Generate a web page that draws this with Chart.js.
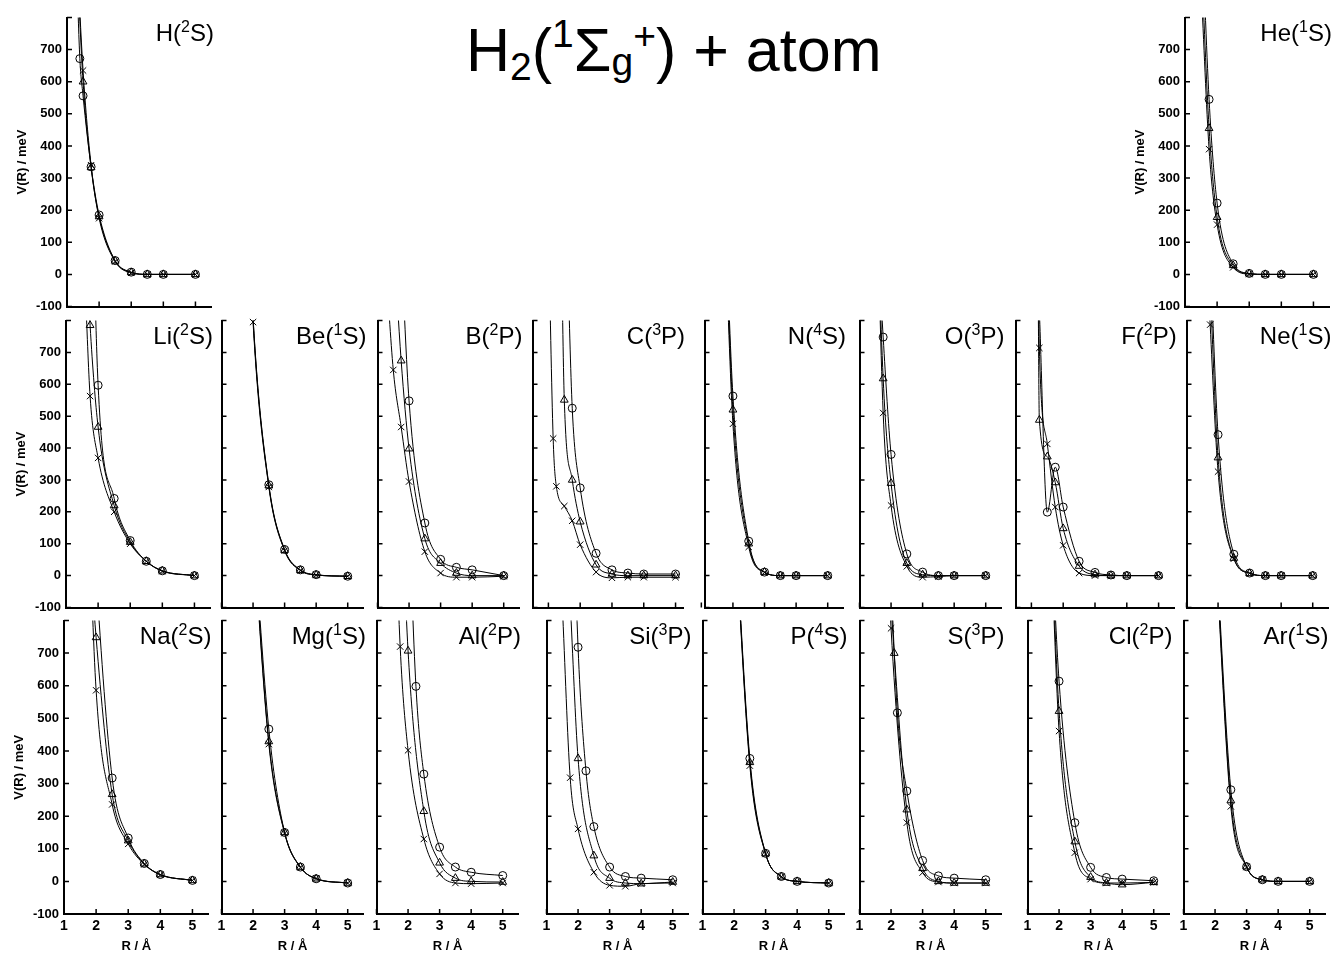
<!DOCTYPE html>
<html>
<head>
<meta charset="utf-8">
<title>H2 + atom potentials</title>
<script src="https://cdn.jsdelivr.net/npm/chart.js@4.4.0/dist/chart.umd.min.js"></script>
<style>
  html, body { margin: 0; padding: 0; background: #fff; }
  body { width: 1332px; height: 953px; position: relative; overflow: hidden;
         font-family: 'Liberation Sans', Arial, Helvetica, sans-serif; color: #000; }
  canvas { position: absolute; }
  .lbl { position: absolute; text-align: right; font-size: 24px; line-height: 24px; white-space: nowrap; color: #000; }
  .lbl .sp { font-size: 16px; position: relative; top: -9px; }
  #title { position: absolute; left: 466px; top: 20px; font-size: 61px; line-height: 61px; white-space: nowrap; color: #000; }
  #title span { color: #000; }
  #title .sb  { font-size: 39px; position: relative; top: 9px; }
  #title .sp  { font-size: 39px; position: relative; top: -24px; }
  #title .sbg { font-size: 39px; position: relative; top: 4px; }
  #title .spp { font-size: 39px; position: relative; top: -22px; }
</style>
</head>
<body>
<div id="title">H<span class="sb">2</span>(<span class="sp">1</span>Σ<span class="sbg">g</span><span class="spp">+</span>) + atom</div>
<script>
// tick values shared by all panels
const X_TICKS = [1, 2, 3, 4, 5];
const Y_TICKS = [-100, 0, 100, 200, 300, 400, 500, 600, 700, 800];

// [R / Å, V / meV]; _o circles, _t triangles, _x crosses.
// values above 800 sit outside the frame and only show where the curve leaves the top
const H_o = [[1.3, 950], [1.4, 672], [1.5, 556], [1.75, 335], [2, 185], [2.5, 43], [3, 7], [3.5, 0], [4, 0], [5, 0]];
const H_t = [[1.3, 1000], [1.5, 600], [1.75, 333], [2, 180], [2.5, 42], [3, 6], [3.5, 0], [4, 0], [5, 0]];
const H_x = [[1.3, 1020], [1.5, 635], [1.75, 340], [2, 175], [2.5, 40], [3, 5], [3.5, 0], [4, 0], [5, 0]];

const He_o = [[1.5, 1150], [1.75, 545], [2, 222], [2.5, 33], [3, 3], [3.5, 0], [4, 0], [5, 0]];
const He_t = [[1.5, 1000], [1.75, 455], [2, 178], [2.5, 28], [3, 2], [3.5, 0], [4, 0], [5, 0]];
const He_x = [[1.5, 900], [1.75, 390], [2, 155], [2.5, 22], [3, 1], [3.5, 0], [4, 0], [5, 0]];

const Li_o = [[1.75, 1500], [2, 597], [2.5, 242], [3, 110], [3.5, 45], [4, 15], [5, 0]];
const Li_t = [[1.6, 1100], [1.75, 785], [2, 466], [2.5, 220], [3, 105], [3.5, 45], [4, 15], [5, 0]];
const Li_x = [[1.6, 900], [1.75, 563], [2, 369], [2.5, 200], [3, 100], [3.5, 45], [4, 14], [5, 0]];

const Be_o = [[1.75, 1400], [2, 810], [2.5, 285], [3, 82], [3.5, 18], [4, 3], [5, -2]];
const Be_t = [[1.75, 1400], [2, 805], [2.5, 282], [3, 80], [3.5, 17], [4, 2], [5, -2]];
const Be_x = [[1.75, 1400], [2, 795], [2.5, 278], [3, 78], [3.5, 16], [4, 2], [5, -2]];

const B_o = [[1.75, 1030], [2, 548], [2.5, 165], [3, 51], [3.5, 26], [4, 18], [5, 0]];
const B_t = [[1.5, 1070], [1.75, 674], [2, 398], [2.5, 116], [3, 39], [3.5, 8], [4, 0], [5, 0]];
const B_x = [[1.25, 1000], [1.5, 645], [1.75, 466], [2, 295], [2.5, 75], [3, 8], [3.5, -5], [4, -5], [5, -2]];

const C_o = [[1.6, 1000], [1.75, 525], [2, 275], [2.5, 70], [3, 18], [3.5, 8], [4, 5], [5, 5]];
const C_t = [[1.4, 1100], [1.5, 551], [1.75, 300], [2, 169], [2.5, 34], [3, 5], [3.5, 0], [4, 0], [5, 0]];
const C_x = [[1, 1100], [1.15, 430], [1.25, 280], [1.5, 218], [1.75, 172], [2, 97], [2.5, 11], [3, -7], [3.5, -5], [4, -5], [5, -5]];

const N_o = [[1.75, 1160], [2, 563], [2.5, 108], [3, 11], [3.5, 0], [4, 0], [5, 0]];
const N_t = [[1.75, 1120], [2, 520], [2.5, 100], [3, 11], [3.5, 0], [4, 0], [5, 0]];
const N_x = [[1.75, 1080], [2, 476], [2.5, 90], [3, 10], [3.5, 0], [4, 0], [5, 0]];

const O_o = [[1.5, 1200], [1.75, 748], [2, 380], [2.5, 68], [3, 11], [3.5, 0], [4, 0], [5, 0]];
const O_t = [[1.5, 1350], [1.75, 618], [2, 290], [2.5, 39], [3, 3], [3.5, 0], [4, 0], [5, 0]];
const O_x = [[1.5, 1400], [1.75, 510], [2, 220], [2.5, 29], [3, -5], [3.5, -3], [4, 0], [5, 0]];

const F_o = [[1.25, 830], [1.5, 199], [1.75, 340], [2, 215], [2.5, 45], [3, 10], [3.5, 2], [4, 0], [5, 0]];
const F_t = [[1.2, 1100], [1.25, 488], [1.5, 373], [1.75, 292], [2, 148], [2.5, 30], [3, 3], [3.5, 0], [4, 0], [5, 0]];
const F_x = [[1.2, 1100], [1.25, 714], [1.5, 413], [1.75, 215], [2, 95], [2.5, 8], [3, 0], [3.5, 0], [4, 0], [5, 0]];

const Ne_o = [[1.5, 1500], [1.75, 1000], [2, 442], [2.5, 67], [3, 8], [3.5, 0], [4, 0], [5, 0]];
const Ne_t = [[1.5, 1400], [1.75, 900], [2, 370], [2.5, 55], [3, 7], [3.5, 0], [4, 0], [5, 0]];
const Ne_x = [[1.5, 1300], [1.75, 787], [2, 326], [2.5, 53], [3, 7], [3.5, 0], [4, 0], [5, 0]];

const Na_o = [[1.75, 1400], [2, 940], [2.5, 317], [3, 133], [3.5, 55], [4, 21], [5, 3]];
const Na_t = [[1.75, 1100], [2, 748], [2.5, 267], [3, 125], [3.5, 54], [4, 21], [5, 3]];
const Na_x = [[1.75, 1180], [2, 586], [2.5, 236], [3, 115], [3.5, 52], [4, 20], [5, 3]];

const Mg_o = [[2, 1100], [2.5, 467], [3, 150], [3.5, 44], [4, 8], [5, -5]];
const Mg_t = [[2, 1080], [2.5, 429], [3, 150], [3.5, 44], [4, 8], [5, -5]];
const Mg_x = [[2, 1070], [2.5, 421], [3, 148], [3.5, 43], [4, 9], [5, -5]];

const Al_o = [[2, 1200], [2.25, 598], [2.5, 329], [3, 105], [3.5, 44], [4, 28], [5, 18]];
const Al_t = [[1.75, 1300], [2, 707], [2.5, 215], [3, 57], [3.5, 10], [4, 0], [5, -2]];
const Al_x = [[1.5, 1400], [1.75, 720], [2, 402], [2.5, 130], [3, 23], [3.5, -5], [4, -7], [5, -5]];

const Si_o = [[1.75, 1500], [2, 718], [2.25, 339], [2.5, 168], [3, 44], [3.5, 15], [4, 10], [5, 5]];
const Si_t = [[1.75, 860], [2, 377], [2.5, 79], [3, 10], [3.5, -5], [4, -7], [5, -2]];
const Si_x = [[1.5, 850], [1.75, 318], [2, 161], [2.5, 28], [3, -12], [3.5, -15], [4, -7], [5, -5]];

const P_o = [[2, 1160], [2.5, 377], [3, 86], [3.5, 15], [4, 0], [5, -5]];
const P_t = [[2, 1150], [2.5, 365], [3, 85], [3.5, 14], [4, 0], [5, -5]];
const P_x = [[2, 1140], [2.5, 355], [3, 84], [3.5, 14], [4, 0], [5, -5]];

const S_o = [[2, 920], [2.2, 517], [2.5, 277], [3, 64], [3.5, 17], [4, 10], [5, 5]];
const S_t = [[1.9, 1000], [2.1, 700], [2.5, 220], [3, 40], [3.5, 0], [4, -5], [5, -5]];
const S_x = [[1.9, 1000], [2, 776], [2.5, 180], [3, 27], [3.5, -2], [4, -5], [5, -5]];

const Cl_o = [[1.75, 1080], [2, 614], [2.5, 180], [3, 43], [3.5, 12], [4, 7], [5, 2]];
const Cl_t = [[1.75, 1057], [2, 522], [2.5, 122], [3, 13], [3.5, -5], [4, -10], [5, -3]];
const Cl_x = [[1.75, 1026], [2, 461], [2.5, 88], [3, 7], [3.5, -5], [4, -5], [5, -3]];

const Ar_o = [[2, 1080], [2.5, 281], [3, 45], [3.5, 5], [4, 0], [5, 0]];
const Ar_t = [[2, 1060], [2.5, 248], [3, 45], [3.5, 5], [4, 0], [5, 0]];
const Ar_x = [[2, 1050], [2.5, 230], [3, 44], [3.5, 5], [4, 0], [5, 0]];

// layout of the grid (pixels)
const UNIT = 32.75;            // px per Å
const ROWS = [
  { top: 15,  bottom: 309 },
  { top: 318, bottom: 610 },
  { top: 618, bottom: 914 }
];

const PANELS = [
  { atom: 'H',  mult: '2', term: 'S', row: 0, x0: 66.5,   xmin: 1,   xmax: 5.5,  yLabels: true, series: [H_o, H_t, H_x] },
  { atom: 'He', mult: '1', term: 'S', row: 0, x0: 1184.5, xmin: 1,   xmax: 5.5,  yLabels: true, series: [He_o, He_t, He_x] },
  { atom: 'Li', mult: '2', term: 'S', row: 1, x0: 65.5,   xmin: 1,   xmax: 5.5,  yLabels: true, series: [Li_o, Li_t, Li_x] },
  { atom: 'Be', mult: '1', term: 'S', row: 1, x0: 219,    xmin: 1,   xmax: 5.5,  series: [Be_o, Be_t, Be_x] },
  { atom: 'B',  mult: '2', term: 'P', row: 1, x0: 375,    xmin: 1,   xmax: 5.5,  series: [B_o, B_t, B_x] },
  { atom: 'C',  mult: '3', term: 'P', row: 1, x0: 529.5,  xmin: 0.5, xmax: 5.25, series: [C_o, C_t, C_x] },
  { atom: 'N',  mult: '4', term: 'S', row: 1, x0: 702,    xmin: 1.1, xmax: 5.5,  series: [N_o, N_t, N_x] },
  { atom: 'O',  mult: '3', term: 'P', row: 1, x0: 857,    xmin: 1,   xmax: 5.5,  series: [O_o, O_t, O_x] },
  { atom: 'F',  mult: '2', term: 'P', row: 1, x0: 1013,   xmin: 0.5, xmax: 5.5,  series: [F_o, F_t, F_x] },
  { atom: 'Ne', mult: '1', term: 'S', row: 1, x0: 1184,   xmin: 1,   xmax: 5.5,  series: [Ne_o, Ne_t, Ne_x] },
  { atom: 'Na', mult: '2', term: 'S', row: 2, x0: 64,     xmin: 1,   xmax: 5.5,  yLabels: true, series: [Na_o, Na_t, Na_x] },
  { atom: 'Mg', mult: '1', term: 'S', row: 2, x0: 218.5,  xmin: 1,   xmax: 5.5,  series: [Mg_o, Mg_t, Mg_x] },
  { atom: 'Al', mult: '2', term: 'P', row: 2, x0: 373.5,  xmin: 1,   xmax: 5.5,  series: [Al_o, Al_t, Al_x] },
  { atom: 'Si', mult: '3', term: 'P', row: 2, x0: 544,    xmin: 1,   xmax: 5.5,  series: [Si_o, Si_t, Si_x] },
  { atom: 'P',  mult: '4', term: 'S', row: 2, x0: 700,    xmin: 1,   xmax: 5.5,  series: [P_o, P_t, P_x] },
  { atom: 'S',  mult: '3', term: 'P', row: 2, x0: 857,    xmin: 1,   xmax: 5.5,  series: [S_o, S_t, S_x] },
  { atom: 'Cl', mult: '2', term: 'P', row: 2, x0: 1025,   xmin: 1,   xmax: 5.5,  series: [Cl_o, Cl_t, Cl_x] },
  { atom: 'Ar', mult: '1', term: 'S', row: 2, x0: 1181,   xmin: 1,   xmax: 5.5,  series: [Ar_o, Ar_t, Ar_x] }
];

const MARKERS = [
  { pointStyle: 'circle',   radius: 4 },
  { pointStyle: 'triangle', radius: 4.5 },
  { pointStyle: 'crossRot', radius: 4.5 }
];

const FONT_Y = { family: "'Liberation Sans', Arial, sans-serif", size: 13, weight: 'bold' };
const FONT_X = { family: "'Liberation Sans', Arial, sans-serif", size: 14, weight: 'bold' };
const PAD_T = 3, PAD_R = 3;

// tick marks point into the plot, as in the original
const inwardTicks = {
  id: 'inwardTicks',
  afterDraw(chart) {
    const { ctx, chartArea: a, scales: { x, y } } = chart;
    ctx.save();
    ctx.strokeStyle = '#000';
    ctx.lineWidth = 1.5;
    ctx.beginPath();
    y.ticks.forEach(t => {
      const py = y.getPixelForValue(t.value);
      ctx.moveTo(a.left, py);
      ctx.lineTo(a.left + 5, py);
    });
    x.ticks.forEach(t => {
      const px = x.getPixelForValue(t.value);
      ctx.moveTo(px, a.bottom);
      ctx.lineTo(px, a.bottom - 5);
    });
    ctx.stroke();
    ctx.restore();
  }
};

function makePanel(p) {
  const row = ROWS[p.row];
  const plotW = (p.xmax - p.xmin) * UNIT;
  const plotH = row.bottom - row.top;
  const padL = p.yLabels ? 52 : 3;
  const padB = p.row === 2 ? 40 : 3;
  const w = Math.round(padL + plotW + PAD_R);
  const h = Math.round(PAD_T + plotH + padB);

  const canvas = document.createElement('canvas');
  canvas.width = w;
  canvas.height = h;
  canvas.style.width = w + 'px';
  canvas.style.height = h + 'px';
  canvas.style.left = (p.x0 - padL) + 'px';
  canvas.style.top = (row.top - PAD_T) + 'px';
  document.body.appendChild(canvas);

  const datasets = [];
  p.series.forEach((pts, i) => {
    const data = pts.map(([x, y]) => ({ x, y }));
    // fitted curve
    datasets.push({
      data,
      showLine: true,
      borderColor: '#000',
      borderWidth: 1,
      pointRadius: 0,
      cubicInterpolationMode: 'monotone',
      clip: 0,
      order: 2
    });
    // computed points
    datasets.push({
      data: data.filter(d => d.y <= 800),
      showLine: false,
      pointStyle: MARKERS[i].pointStyle,
      pointRadius: MARKERS[i].radius,
      pointBorderColor: '#000',
      pointBackgroundColor: 'rgba(0,0,0,0)',
      pointBorderWidth: 1,
      clip: false,
      order: 1
    });
  });

  new Chart(canvas, {
    type: 'line',
    data: { datasets },
    options: {
      responsive: false,
      animation: false,
      devicePixelRatio: 1,
      layout: { padding: { top: PAD_T, right: PAD_R, left: 0, bottom: 0 } },
      plugins: { legend: { display: false }, tooltip: { enabled: false } },
      scales: {
        x: {
          type: 'linear',
          min: p.xmin,
          max: p.xmax,
          grid: { drawOnChartArea: false, drawTicks: false },
          border: { color: '#000', width: 2 },
          ticks: { display: p.row === 2, color: '#000', font: FONT_X, padding: 4, maxRotation: 0, autoSkip: false },
          title: { display: p.row === 2, text: 'R / Å', color: '#000', font: FONT_Y, padding: { top: 0, bottom: 0 } },
          afterBuildTicks: s => { s.ticks = X_TICKS.map(v => ({ value: v })); },
          afterFit: s => { s.height = padB; s.paddingLeft = 0; s.paddingRight = 0; }
        },
        y: {
          type: 'linear',
          min: -100,
          max: 800,
          grid: { drawOnChartArea: false, drawTicks: false },
          border: { color: '#000', width: 2 },
          ticks: {
            display: !!p.yLabels, color: '#000', font: FONT_Y, padding: 5,
            callback: v => (v === 800 ? '' : v)
          },
          title: { display: !!p.yLabels, text: 'V(R) / meV', color: '#000', font: FONT_Y, padding: { top: 0, bottom: 0 } },
          afterBuildTicks: s => { s.ticks = Y_TICKS.map(v => ({ value: v })); },
          afterFit: s => { s.width = padL; s.paddingTop = 0; s.paddingBottom = 0; }
        }
      }
    },
    plugins: [inwardTicks]
  });

  // state label in the top right corner
  const lbl = document.createElement('div');
  lbl.className = 'lbl';
  lbl.style.left = p.x0 + 'px';
  lbl.style.width = plotW + 'px';
  lbl.style.top = (row.top + 6) + 'px';
  lbl.innerHTML = p.atom + '(<span class="sp">' + p.mult + '</span>' + p.term + ')';
  document.body.appendChild(lbl);
}

PANELS.forEach(makePanel);
</script>
</body>
</html>
